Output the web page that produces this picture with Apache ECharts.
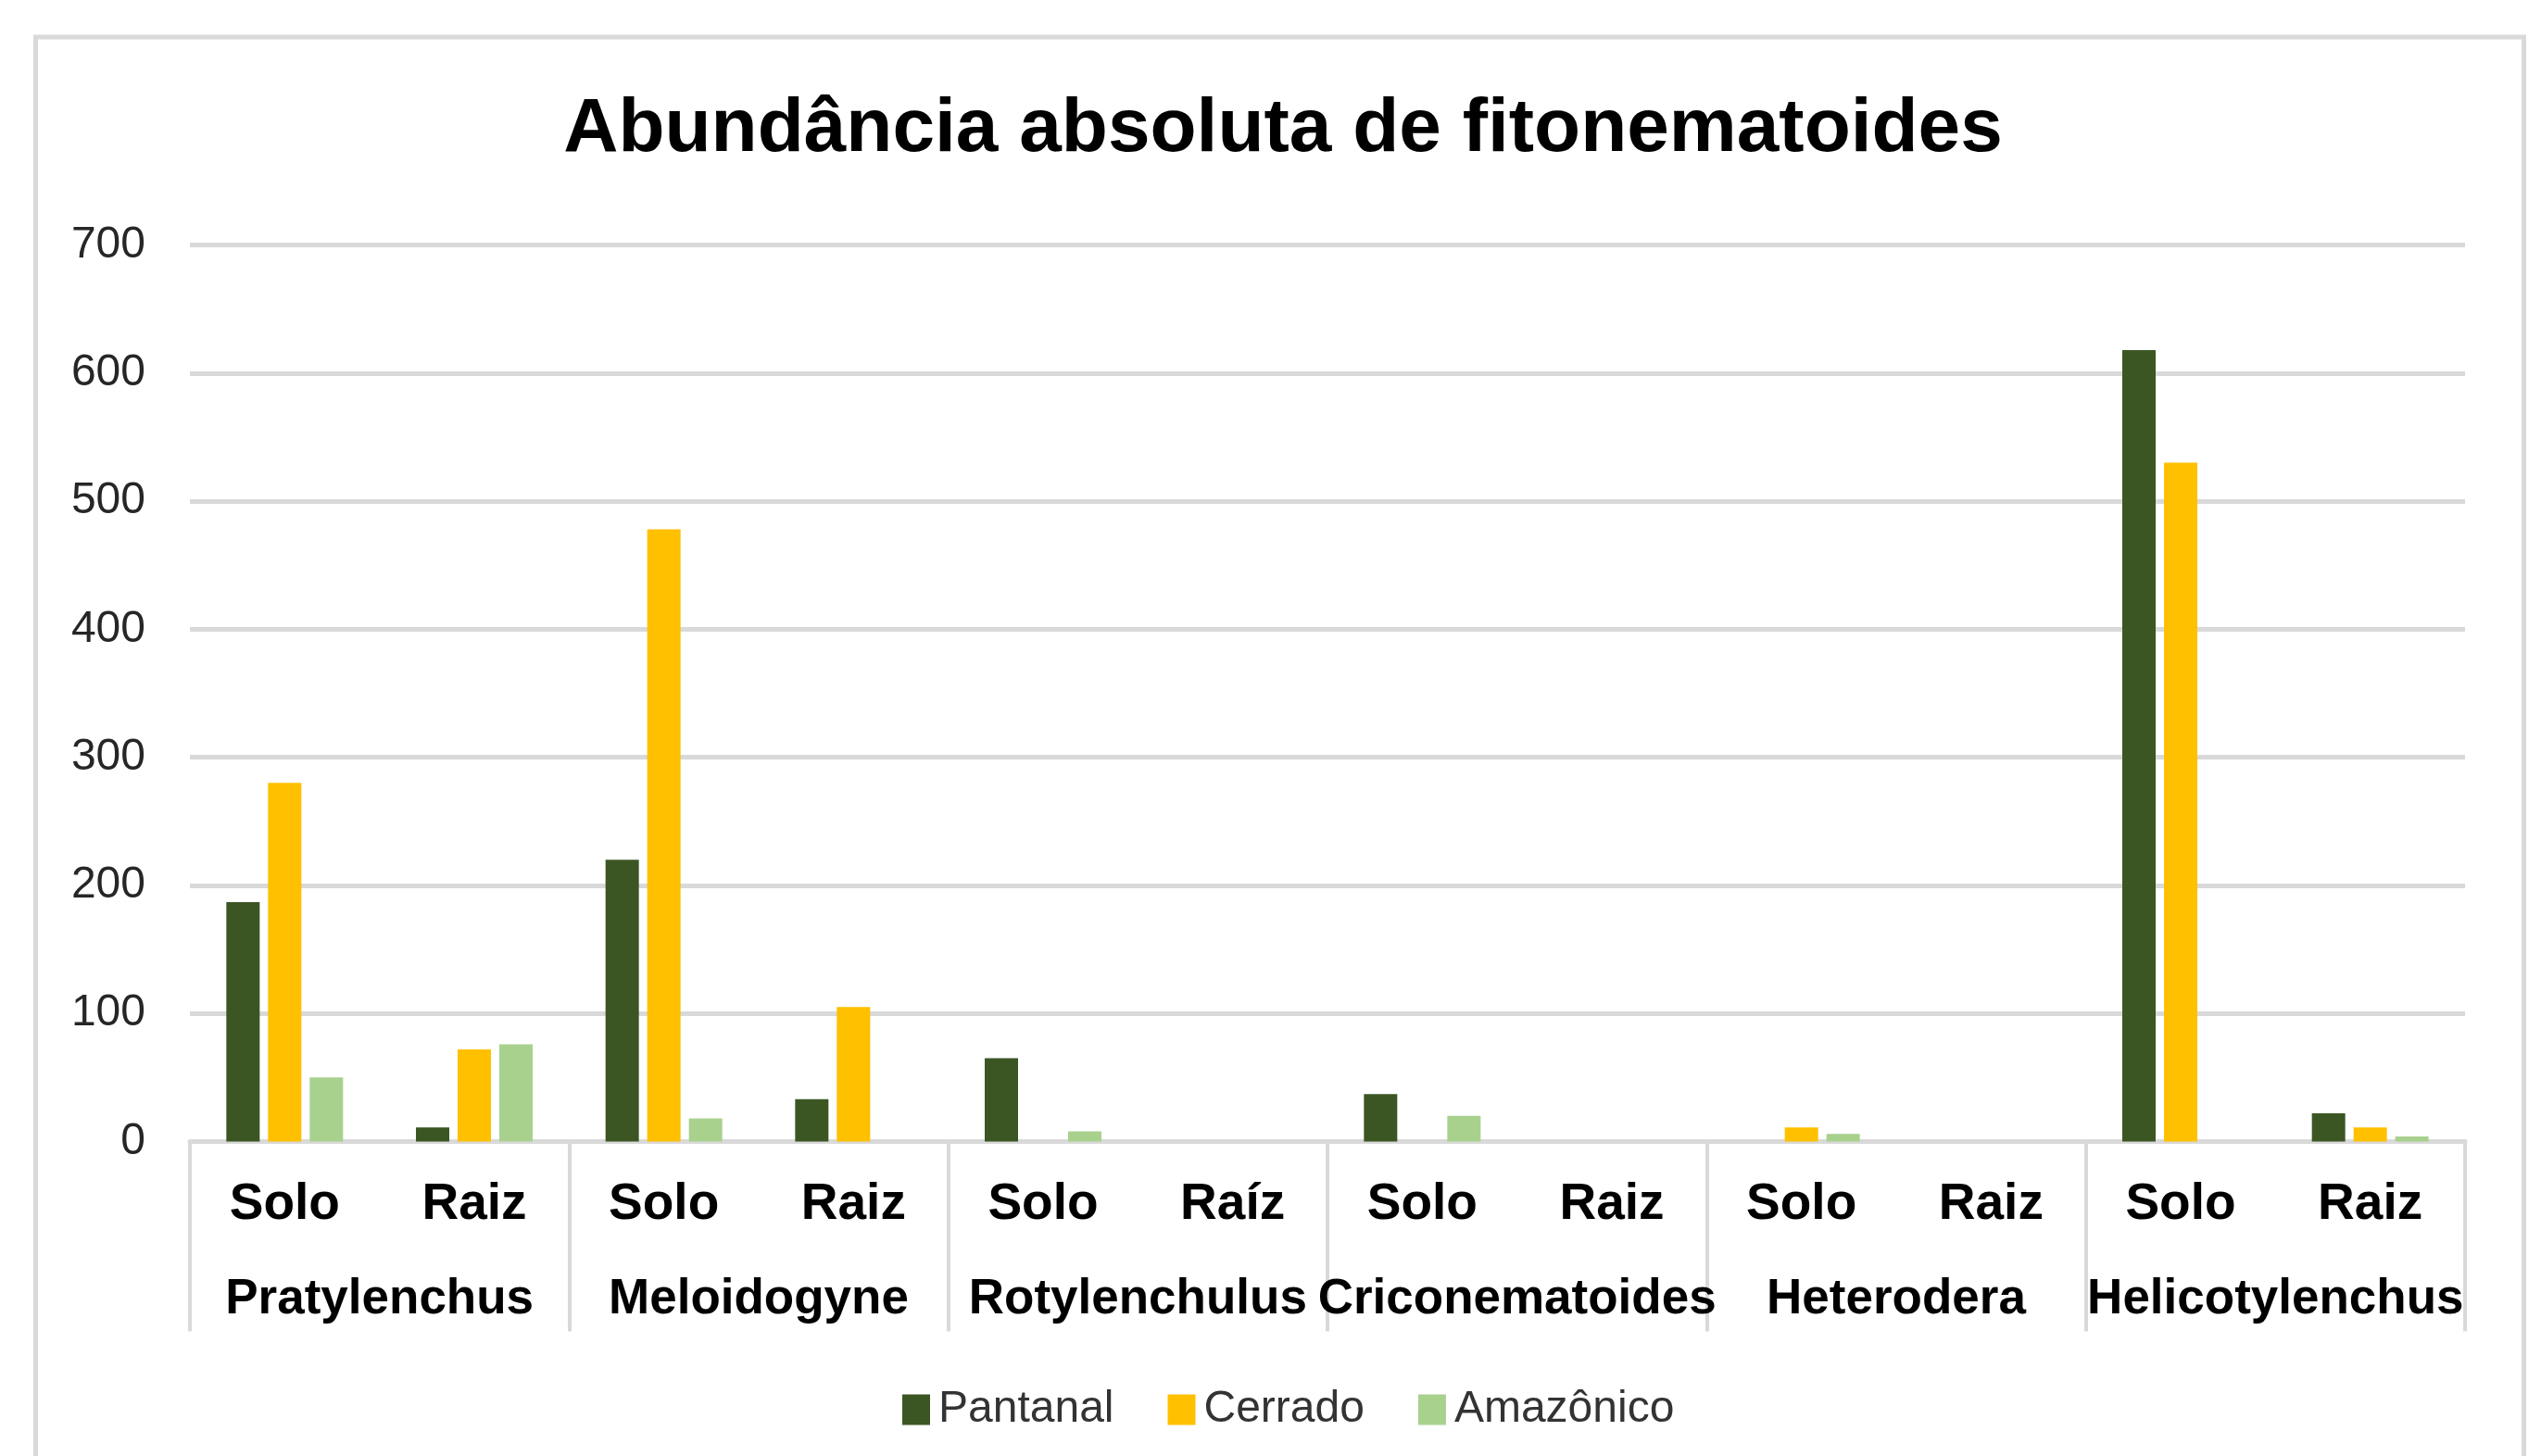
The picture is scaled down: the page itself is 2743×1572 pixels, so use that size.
<!DOCTYPE html>
<html>
<head>
<meta charset="utf-8">
<title>Abundância absoluta de fitonematoides</title>
<script src="https://cdn.jsdelivr.net/npm/echarts@6/dist/echarts.min.js"></script>
<style>
  html, body { margin: 0; padding: 0; background: #fff; }
  #chartMain { width: 2743px; height: 1572px; }
</style>
</head>
<body>
<div id="chartMain"></div>
<script>
  // categorias
  const generos = ['Pratylenchus', 'Meloidogyne', 'Rotylenchulus', 'Criconematoides', 'Heterodera', 'Helicotylenchus'];
  const amostras = ['Solo', 'Raiz', 'Solo', 'Raiz', 'Solo', 'Raíz', 'Solo', 'Raiz', 'Solo', 'Raiz', 'Solo', 'Raiz'];
  const yTicks = [0, 100, 200, 300, 400, 500, 600, 700];

  // valores
  const pantanal = [187, 11, 220, 33, 65, 0, 37, 0, 0, 0, 618, 22];
  const cerrado = [280, 72, 478, 105, 0, 0, 0, 0, 11, 0, 530, 11];
  const amazonico = [50, 76, 18, 0, 8, 0, 20, 0, 6, 0, 0, 4];

  const cinza = '#d9d9d9';
  const fonte = '"Liberation Sans", Arial, sans-serif';

  let myChart = echarts.init(document.getElementById('chartMain'));
  let option = {
    animation: false,
    backgroundColor: '#fff',
    graphic: [
      {
        type: 'rect',
        z: -1,
        shape: { x: 38.5, y: 40, width: 2686, height: 2000 },
        style: { fill: 'none', stroke: cinza, lineWidth: 5 }
      }
    ],
    title: {
      text: 'Abundância absoluta de fitonematoides',
      left: 1380,
      textAlign: 'center',
      top: 94,
      textStyle: {
        fontFamily: fonte,
        fontSize: 82,
        fontWeight: 'bold',
        color: '#000'
      }
    },
    legend: {
      data: ['Pantanal', 'Cerrado', 'Amazônico'],
      left: 969,
      top: 1493,
      itemWidth: 30,
      itemHeight: 33,
      itemGap: 58,
      icon: 'rect',
      textStyle: {
        fontFamily: fonte,
        fontSize: 48,
        color: '#333',
        padding: [0, 0, 0, 4]
      }
    },
    grid: {
      left: 205,
      right: 82,
      top: 264.5,
      bottom: 339.5
    },
    xAxis: [
      {
        type: 'category',
        data: amostras,
        position: 'bottom',
        axisLine: { lineStyle: { color: cinza, width: 5 } },
        axisTick: { show: false },
        axisLabel: {
          interval: 0,
          margin: 68,
          verticalAlign: 'middle',
          fontFamily: fonte,
          fontSize: 55,
          fontWeight: 'bold',
          color: '#000'
        }
      },
      {
        type: 'category',
        data: generos,
        position: 'bottom',
        axisLine: { show: false },
        axisTick: {
          show: true,
          interval: 0,
          length: 205,
          lineStyle: { color: cinza, width: 4 }
        },
        axisLabel: {
          interval: 0,
          margin: 171,
          verticalAlign: 'middle',
          fontFamily: fonte,
          fontSize: 53,
          fontWeight: 'bold',
          color: '#000'
        }
      }
    ],
    yAxis: {
      type: 'value',
      min: yTicks[0],
      max: yTicks[yTicks.length - 1],
      interval: 100,
      axisLine: { show: false },
      axisTick: { show: false },
      axisLabel: {
        margin: 48,
        fontFamily: fonte,
        fontSize: 48,
        color: '#262626'
      },
      splitLine: { lineStyle: { color: cinza, width: 5 } }
    },
    series: [
      {
        name: 'Pantanal',
        type: 'bar',
        xAxisIndex: 0,
        data: pantanal,
        barWidth: 36,
        barGap: '25%',
        itemStyle: { color: '#3b5623' }
      },
      {
        name: 'Cerrado',
        type: 'bar',
        xAxisIndex: 0,
        data: cerrado,
        barWidth: 36,
        barGap: '25%',
        itemStyle: { color: '#ffc000' }
      },
      {
        name: 'Amazônico',
        type: 'bar',
        xAxisIndex: 0,
        data: amazonico,
        barWidth: 36,
        barGap: '25%',
        itemStyle: { color: '#a9d18e' }
      }
    ]
  };
  myChart.setOption(option, true);
</script>
</body>
</html>
